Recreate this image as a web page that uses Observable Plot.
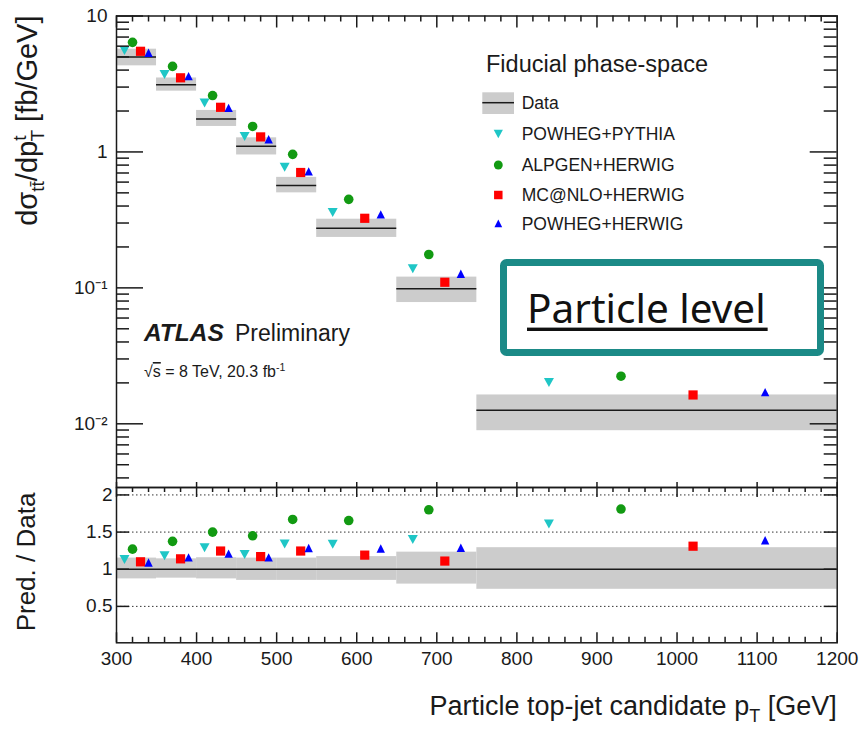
<!DOCTYPE html>
<html><head><meta charset="utf-8">
<script src="https://cdn.jsdelivr.net/npm/d3@7"></script>
<script src="https://cdn.jsdelivr.net/npm/@observablehq/plot@0.6"></script>
<style>
html,body{margin:0;padding:0;background:#fff;}
#chart{position:relative;width:861px;height:732px;overflow:hidden;background:#fff;}
#chart svg{position:absolute;left:0;top:0;}
</style></head><body><div id="chart"></div>
<script>
// ---------------- data ----------------
const binLo   = [300, 350, 400, 450, 500, 550, 650, 750];
const binHi   = [350, 400, 450, 500, 550, 650, 750, 1200];
const dataVal = [5.0, 3.12, 1.75, 1.10, 0.567, 0.274, 0.0986, 0.0126];
const dataUp  = [5.7, 3.5, 2.02, 1.27, 0.65, 0.32, 0.12, 0.0163];
const dataDn  = [4.3, 2.8, 1.54, 0.95, 0.50, 0.235, 0.078, 0.0089];
const ratioUp = [1.15, 1.14, 1.155, 1.15, 1.15, 1.17, 1.23, 1.29];
const ratioDn = [0.87, 0.88, 0.87, 0.85, 0.85, 0.85, 0.80, 0.73];

const seriesNames = ["POWHEG+PYTHIA", "ALPGEN+HERWIG", "MC@NLO+HERWIG", "POWHEG+HERWIG"];
const xPowPy  = [310, 360, 410, 460, 510, 570, 670, 840];
const xAlp    = [320, 370, 420, 470, 520, 590, 690, 930];
const xMc     = [330, 380, 430, 480, 530, 610, 710, 1020];
const xPowHw  = [340, 390, 440, 490, 540, 630, 730, 1110];

const topPowPy = [5.57, 3.71, 2.29, 1.30, 0.773, 0.359, 0.138, 0.0201];
const topAlp   = [6.4, 4.26, 2.60, 1.54, 0.96, 0.448, 0.176, 0.0224];
const topMc    = [5.5, 3.51, 2.13, 1.29, 0.706, 0.325, 0.110, 0.0163];
const topPowHw = [5.36, 3.61, 2.11, 1.24, 0.72, 0.347, 0.127, 0.0171];

const ratPowPy = [1.13, 1.18, 1.29, 1.20, 1.34, 1.335, 1.40, 1.61];
const ratAlp   = [1.27, 1.375, 1.50, 1.45, 1.67, 1.655, 1.80, 1.81];
const ratMc    = [1.10, 1.14, 1.245, 1.17, 1.245, 1.19, 1.11, 1.31];
const ratPowHw = [1.09, 1.16, 1.21, 1.16, 1.285, 1.28, 1.29, 1.39];

const xTicksMajor = [300, 400, 500, 600, 700, 800, 900, 1000, 1100, 1200];
const xTickLabels = ["300","400","500","600","700","800","900","1000","1100","1200"];
const yTicksTop = [0.01, 0.1, 1, 10];
const yTickLabelsTop = ["10\u207B\u00B2", "10\u207B\u00B9", "1", "10"];
const yTicksRatio = [0.5, 1, 1.5, 2];
const yTickLabelsRatio = ["0.5", "1", "1.5", "2"];
const ratioGrid = [0.5, 1.5, 2];

// ---------------- layout ----------------
const W = 861, H = 732;
const X0 = 116, X1 = 836.7;
const TY0 = 15.5, TY1 = 487;
const RY0 = 487, RY1 = 642.3;
const FONT = "'Liberation Sans', Arial, Helvetica, sans-serif";
const INK = "#1a1a1a";
const innerW = X1 - X0;
const topInnerH = TY1 - TY0;
const ratInnerH = RY1 - RY0;

// custom marker shapes (size = pi r^2)
const triDown = {draw(ctx, size){ const r = Math.sqrt(size/Math.PI); const h = r*1.8; ctx.moveTo(-r, -h/2); ctx.lineTo(r, -h/2); ctx.lineTo(0, h/2); ctx.closePath(); }};
const triUp = {draw(ctx, size){ const r = Math.sqrt(size/Math.PI); const h = r*2.0; ctx.moveTo(0, -h/2); ctx.lineTo(r, h/2); ctx.lineTo(-r, h/2); ctx.closePath(); }};
const sq = {draw(ctx, size){ const r = Math.sqrt(size/Math.PI); ctx.rect(-r, -r, 2*r, 2*r); }};
const circ = {draw(ctx, size){ const r = Math.sqrt(size/Math.PI); ctx.moveTo(r,0); ctx.arc(0,0,r,0,2*Math.PI); }};

const series = [
  {name: seriesNames[0], color: "#1fc6c6", symbol: triDown, r: 5.0, x: xPowPy, top: topPowPy, ratio: ratPowPy},
  {name: seriesNames[1], color: "#129a12", symbol: circ,    r: 4.8, x: xAlp,   top: topAlp,   ratio: ratAlp},
  {name: seriesNames[2], color: "#ff0000", symbol: sq,      r: 4.6, x: xMc,    top: topMc,    ratio: ratMc},
  {name: seriesNames[3], color: "#0000ff", symbol: triUp,   r: 4.2, x: xPowHw, top: topPowHw, ratio: ratPowHw}
];

const dataRows = binLo.map((lo, i) => ({lo, hi: binHi[i], val: dataVal[i], up: dataUp[i], dn: dataDn[i], rUp: ratioUp[i], rDn: ratioDn[i]}));
const pointRows = series.map(s => s.x.map((x, i) => ({x, top: s.top[i], ratio: s.ratio[i]})));

const xMinor = d3.range(300, 1201, 20).filter(v => v % 100 !== 0);
const yMinorTop = [];
for (const e of [-3, -2, -1, 0]) for (let k = 2; k <= 9; k++) { const v = k * Math.pow(10, e); if (v >= 0.0034 && v <= 10) yMinorTop.push(+v.toPrecision(3)); }

const tickStyle = {stroke: INK, strokeWidth: 1.5};
const topTickX = (vals, len, ih) => Plot.tickX(vals, {x: d => d, insetBottom: ih - len, ...tickStyle});
const botTickX = (vals, len, ih) => Plot.tickX(vals, {x: d => d, insetTop: ih - len, ...tickStyle});
const leftTickY = (vals, len) => Plot.tickY(vals, {y: d => d, insetRight: innerW - len, ...tickStyle});
const rightTickY = (vals, len) => Plot.tickY(vals, {y: d => d, insetLeft: innerW - len, ...tickStyle});

const chart = document.getElementById("chart");

// ---------------- top panel ----------------
const topPlot = Plot.plot({
  width: W, height: H,
  marginLeft: X0, marginRight: W - X1, marginTop: TY0, marginBottom: H - TY1,
  style: {background: "transparent", fontFamily: FONT, fontSize: "19px", color: INK, overflow: "visible"},
  x: {domain: [300, 1200], axis: null},
  y: {type: "log", domain: [0.0034, 10]},
  marks: [
    Plot.rect(dataRows, {x1: "lo", x2: "hi", y1: "dn", y2: "up", fill: "#cccccc"}),
    Plot.ruleY(dataRows, {y: "val", x1: "lo", x2: "hi", stroke: INK, strokeWidth: 1.5}),
    ...series.map((s, k) => Plot.dot(pointRows[k], {x: "x", y: "top", symbol: s.symbol, r: s.r, fill: s.color, stroke: "none"})),
    Plot.frame({stroke: INK, strokeWidth: 1.5}),
    topTickX(xTicksMajor, 12, topInnerH), topTickX(xMinor, 6, topInnerH),
    botTickX(xTicksMajor, 5, topInnerH),
    leftTickY(yTicksTop, 27), leftTickY(yMinorTop, 13),
    rightTickY(yTicksTop, 27), rightTickY(yMinorTop, 13),
    Plot.axisY({anchor: "left", ticks: yTicksTop, tickFormat: d => yTickLabelsTop[yTicksTop.indexOf(d)], tickSize: 0, tickPadding: 9, fontSize: 19, label: null})
  ]
});
chart.appendChild(topPlot);

// ---------------- ratio panel ----------------
const ratPlot = Plot.plot({
  width: W, height: H,
  marginLeft: X0, marginRight: W - X1, marginTop: RY0, marginBottom: H - RY1,
  style: {background: "transparent", fontFamily: FONT, fontSize: "19px", color: INK, overflow: "visible"},
  x: {domain: [300, 1200]},
  y: {domain: [0.01, 2.1]},
  marks: [
    Plot.ruleY(ratioGrid, {y: d => d, stroke: "#333", strokeWidth: 1, strokeDasharray: "1.5,2.5"}),
    Plot.rect(dataRows, {x1: "lo", x2: "hi", y1: "rDn", y2: "rUp", fill: "#cccccc"}),
    Plot.ruleY([1], {y: d => d, stroke: INK, strokeWidth: 1.5}),
    ...series.map((s, k) => Plot.dot(pointRows[k], {x: "x", y: "ratio", symbol: s.symbol, r: s.r, fill: s.color, stroke: "none"})),
    Plot.frame({stroke: INK, strokeWidth: 1.5}),
    topTickX(xTicksMajor, 10, ratInnerH), topTickX(xMinor, 5, ratInnerH),
    botTickX(xTicksMajor, 10, ratInnerH), botTickX(xMinor, 5.5, ratInnerH),
    leftTickY(yTicksRatio, 13), rightTickY(yTicksRatio, 13),
    Plot.axisX({anchor: "bottom", ticks: xTicksMajor, tickFormat: d => xTickLabels[xTicksMajor.indexOf(d)], tickSize: 0, tickPadding: 9, fontSize: 19, label: null}),
    Plot.axisY({anchor: "left", ticks: yTicksRatio, tickFormat: d => yTickLabelsRatio[yTicksRatio.indexOf(d)], tickSize: 0, tickPadding: 4, fontSize: 19, label: null})
  ]
});
chart.appendChild(ratPlot);

// ---------------- overlay: titles, legend, labels ----------------
const ov = d3.create("svg").attr("width", W).attr("height", H)
  .style("font-family", FONT).style("pointer-events", "none");

// y title (top)
const yt = ov.append("text").attr("transform", `translate(37,${TY0}) rotate(-90)`)
  .attr("text-anchor", "end").attr("font-size", 29).attr("fill", INK);
yt.append("tspan").text("d\u03C3");
yt.append("tspan").attr("font-size", 19).attr("dy", 7).text("t\u0074\u0304");
yt.append("tspan").attr("dy", -7).text("/dp");
yt.append("tspan").attr("font-size", 19).attr("dy", -11).text("t");
yt.append("tspan").attr("font-size", 19).attr("dx", -6).attr("dy", 18).text("T");
yt.append("tspan").attr("dy", -7).text(" [fb/GeV]");

// y title (ratio)
ov.append("text").attr("transform", `translate(35,562) rotate(-90)`)
  .attr("text-anchor", "middle").attr("font-size", 26).attr("fill", INK).text("Pred. / Data");

// x title
const xt = ov.append("text").attr("x", X1).attr("y", 715).attr("text-anchor", "end").attr("font-size", 27).attr("fill", INK);
xt.append("tspan").text("Particle top-jet candidate p");
xt.append("tspan").attr("font-size", 18).attr("dy", 7).text("T");
xt.append("tspan").attr("dy", -7).text(" [GeV]");

// legend
ov.append("text").attr("x", 486).attr("y", 72).attr("font-size", 23.5).attr("fill", INK).text("Fiducial phase-space");
const legY = [102.7, 134, 165, 195, 223.3];
ov.append("rect").attr("x", 482.3).attr("y", 92.3).attr("width", 31.7).attr("height", 21.7).attr("fill", "#cccccc");
ov.append("line").attr("x1", 482.3).attr("x2", 514).attr("y1", legY[0]).attr("y2", legY[0]).attr("stroke", INK).attr("stroke-width", 1.5);
ov.append("text").attr("x", 521.7).attr("y", legY[0]).attr("dy", "0.36em").attr("font-size", 17.5).attr("fill", INK).text("Data");
series.forEach((s, k) => {
  const yy = legY[k + 1];
  ov.append("path").attr("transform", `translate(498.3,${yy})`)
    .attr("d", d3.symbol().type(s.symbol).size(Math.PI * s.r * s.r * 0.85)()).attr("fill", s.color);
  ov.append("text").attr("x", 521.7).attr("y", yy).attr("dy", "0.36em").attr("font-size", 17.5).attr("fill", INK).text(s.name);
});

// ATLAS label
const at = ov.append("text").attr("x", 144).attr("y", 340.7).attr("font-size", 23).attr("fill", INK);
at.append("tspan").attr("font-weight", "bold").attr("font-style", "italic").attr("font-size", 24.5).text("ATLAS");
at.append("tspan").attr("x", 235).text("Preliminary");
const en = ov.append("text").attr("x", 144).attr("y", 377).attr("font-size", 16).attr("fill", INK);
en.append("tspan").text("\u221A");
en.append("tspan").attr("text-decoration", "overline").text("s");
en.append("tspan").text(" = 8 TeV, 20.3 fb");
en.append("tspan").attr("font-size", 10.5).attr("dy", -6).text("-1");

// Particle level box
ov.append("rect").attr("x", 503.5).attr("y", 262.5).attr("width", 317).attr("height", 90).attr("rx", 3)
  .attr("fill", "#ffffff").attr("stroke", "#1b8a87").attr("stroke-width", 7);
const pl = ov.append("text").attr("x", 527).attr("y", 322.7).attr("font-family", "'Noto Sans', sans-serif")
  .attr("font-size", 40.5).attr("fill", "#111").text("Particle level");
const ul = ov.append("rect").attr("x", 527).attr("y", 327.6).attr("height", 3.4).attr("width", 242).attr("fill", "#111");

chart.appendChild(ov.node());
try { const w = pl.node().getComputedTextLength(); ul.attr("width", w + 2); } catch (e) {}
</script></body></html>
